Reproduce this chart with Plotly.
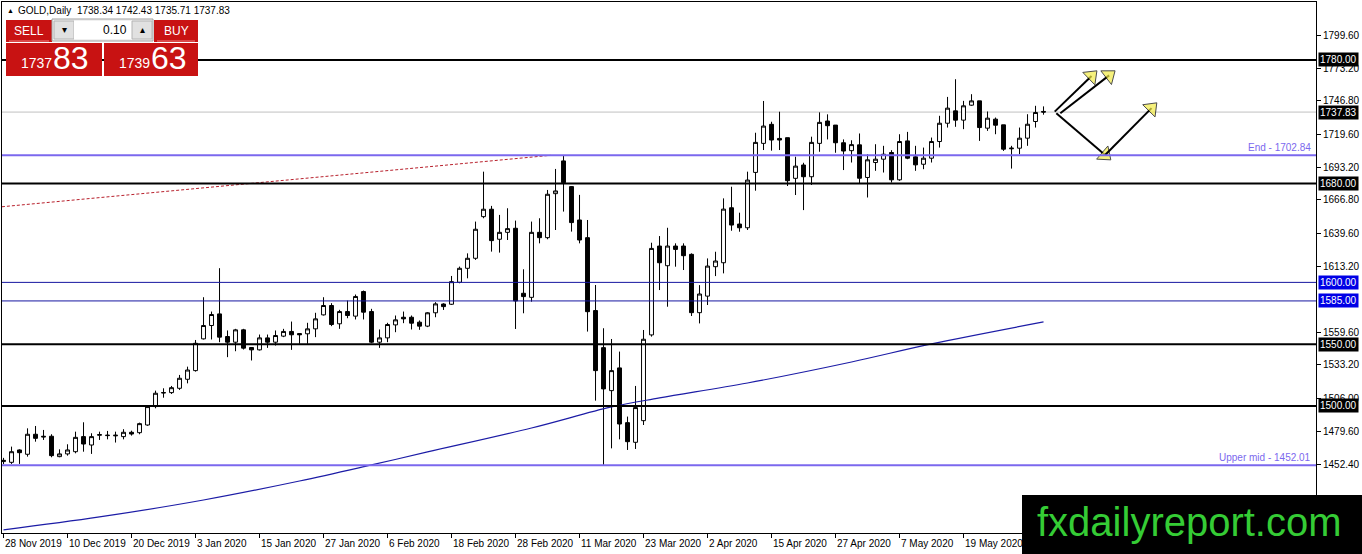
import plotly.graph_objects as go

# daily bars, 28 Nov 2019 .. 2 Jun 2020 (bar index = trading day)
opens = [1455.0, 1454.4, 1464.4, 1460.9, 1477.1, 1475.5, 1475.5, 1459.0, 1461.2, 1463.0,
         1475.2, 1468.4, 1476.3, 1476.0, 1475.8, 1475.2, 1478.7, 1478.4, 1484.6, 1499.5,
         1510.5, 1510.8, 1514.3, 1521.6, 1528.6, 1554.3, 1565.1, 1574.5, 1556.2, 1551.6,
         1561.6, 1547.3, 1545.4, 1555.1, 1551.6, 1556.5, 1560.3, 1558.6, 1558.4, 1562.4,
         1573.7, 1581.3, 1566.5, 1576.4, 1572.7, 1592.6, 1576.4, 1551.6, 1555.1, 1565.6,
         1571.8, 1571.8, 1567.8, 1564.6, 1575.4, 1582.5, 1582.3, 1600.1, 1611.4, 1619.5,
         1653.2, 1659.2, 1634.9, 1640.5, 1643.8, 1591.2, 1587.9, 1640.5, 1636.2, 1671.8,
         1698.3, 1677.5, 1650.5, 1636.2, 1577.2, 1547.2, 1512.4, 1530.8, 1486.5, 1470.6,
         1488.1, 1557.5, 1629.4, 1613.5, 1629.4, 1629.4, 1622.7, 1575.5, 1588.9, 1612.7,
         1615.9, 1660.4, 1647.2, 1644.2, 1689.0, 1712.5, 1727.9, 1716.5, 1717.1, 1684.2,
         1695.0, 1685.5, 1712.5, 1730.6, 1727.3, 1713.0, 1706.6, 1711.3, 1684.9, 1697.0,
         1699.7, 1705.1, 1683.0, 1714.5, 1701.6, 1695.6, 1700.5, 1714.0, 1728.8, 1738.8,
         1731.3, 1743.4, 1746.9, 1724.8, 1732.1, 1727.5, 1708.1, 1708.6, 1716.7, 1730.2,
         1738.34]
highs = [1458.0, 1467.1, 1464.9, 1481.9, 1483.8, 1480.6, 1477.1, 1464.9, 1469.0, 1479.2,
         1486.8, 1477.9, 1479.2, 1479.8, 1479.2, 1481.2, 1480.0, 1486.5, 1500.0, 1512.4,
         1514.3, 1516.2, 1525.1, 1531.8, 1553.4, 1588.0, 1576.4, 1611.5, 1561.1, 1562.4,
         1562.4, 1547.6, 1557.8, 1557.8, 1561.1, 1562.4, 1568.3, 1558.6, 1567.3, 1575.4,
         1588.0, 1583.2, 1577.8, 1585.3, 1590.2, 1593.4, 1578.6, 1561.9, 1567.3, 1573.2,
         1576.4, 1573.2, 1569.2, 1575.9, 1584.0, 1583.1, 1605.2, 1612.8, 1623.5, 1649.2,
         1689.6, 1661.9, 1654.6, 1660.0, 1650.0, 1610.6, 1649.2, 1651.9, 1674.8, 1691.8,
         1703.1, 1678.0, 1670.8, 1650.5, 1597.9, 1562.9, 1554.2, 1544.0, 1491.4, 1516.2,
         1561.5, 1632.1, 1637.5, 1644.2, 1631.6, 1631.6, 1623.5, 1597.8, 1619.4, 1624.8,
         1668.0, 1677.4, 1656.4, 1689.6, 1721.1, 1746.8, 1730.0, 1738.1, 1717.1, 1701.7,
         1696.8, 1717.9, 1737.6, 1736.0, 1727.3, 1715.7, 1715.0, 1720.5, 1703.7, 1711.8,
         1710.5, 1707.0, 1719.9, 1721.8, 1710.5, 1709.1, 1717.2, 1734.8, 1750.1, 1764.4,
         1746.9, 1752.3, 1746.9, 1738.3, 1733.4, 1727.5, 1710.5, 1725.3, 1736.1, 1742.9,
         1742.43]
lows = [1453.0, 1453.1, 1453.1, 1459.0, 1471.1, 1472.5, 1458.5, 1458.5, 1459.8, 1461.7,
        1463.0, 1461.2, 1472.5, 1473.0, 1470.4, 1473.0, 1476.0, 1477.1, 1484.0, 1498.1,
        1506.7, 1509.7, 1513.0, 1518.3, 1527.8, 1553.8, 1553.8, 1551.6, 1539.5, 1544.3,
        1545.7, 1536.8, 1544.9, 1547.0, 1548.9, 1555.7, 1545.4, 1550.3, 1550.3, 1555.7,
        1573.2, 1564.6, 1562.4, 1571.0, 1570.0, 1570.0, 1550.8, 1547.0, 1551.6, 1559.7,
        1567.0, 1561.9, 1561.6, 1563.8, 1571.8, 1577.7, 1581.7, 1599.3, 1603.3, 1618.2,
        1651.9, 1624.9, 1624.1, 1634.3, 1562.3, 1575.0, 1584.4, 1631.6, 1634.9, 1642.4,
        1657.3, 1641.1, 1631.6, 1560.2, 1504.3, 1452.3, 1465.7, 1473.0, 1464.4, 1465.2,
        1484.6, 1556.1, 1593.8, 1580.3, 1612.7, 1610.0, 1572.8, 1566.8, 1581.7, 1605.1,
        1607.3, 1641.8, 1641.0, 1642.4, 1674.2, 1707.1, 1706.6, 1707.1, 1678.0, 1670.7,
        1658.5, 1678.8, 1705.7, 1715.7, 1704.9, 1690.9, 1697.0, 1680.0, 1668.7, 1690.3,
        1688.9, 1680.8, 1682.2, 1699.7, 1690.3, 1691.6, 1697.0, 1709.1, 1725.3, 1725.9,
        1724.0, 1742.9, 1714.5, 1722.6, 1719.9, 1706.4, 1692.1, 1703.7, 1710.5, 1725.3,
        1735.71]
closes = [1456.0, 1463.0, 1462.2, 1477.1, 1473.8, 1475.0, 1459.8, 1461.2, 1464.4, 1474.6,
          1469.2, 1475.2, 1476.8, 1476.3, 1476.3, 1478.7, 1477.3, 1485.7, 1499.5, 1510.3,
          1510.8, 1514.8, 1522.4, 1529.1, 1550.7, 1565.1, 1574.0, 1555.7, 1551.6, 1561.6,
          1546.8, 1545.4, 1555.1, 1551.6, 1557.0, 1560.3, 1557.6, 1557.6, 1562.4, 1570.5,
          1581.3, 1565.9, 1576.4, 1573.2, 1588.6, 1575.9, 1551.6, 1555.1, 1565.9, 1569.7,
          1570.5, 1567.0, 1564.6, 1575.4, 1582.6, 1580.4, 1600.6, 1611.4, 1619.5, 1643.0,
          1659.2, 1633.8, 1640.5, 1643.5, 1585.0, 1588.5, 1640.5, 1636.2, 1671.3, 1674.0,
          1680.7, 1648.4, 1634.3, 1576.3, 1528.6, 1513.8, 1528.6, 1485.4, 1471.1, 1498.7,
          1554.0, 1627.5, 1615.9, 1629.4, 1626.7, 1621.6, 1575.5, 1590.6, 1613.2, 1617.3,
          1659.3, 1646.4, 1644.2, 1682.8, 1713.3, 1726.5, 1715.2, 1715.2, 1682.3, 1694.1,
          1685.5, 1713.3, 1729.5, 1726.8, 1713.0, 1706.3, 1711.5, 1684.3, 1699.2, 1699.7,
          1703.7, 1683.0, 1714.0, 1700.5, 1695.1, 1700.5, 1714.0, 1728.8, 1741.0, 1731.3,
          1742.9, 1746.9, 1725.3, 1732.9, 1727.2, 1707.8, 1708.6, 1716.7, 1728.0, 1737.5,
          1737.83]
bars = list(range(len(opens)))

label_bars = [0, 8, 16, 24, 32, 40, 48, 56, 64, 72, 80, 88, 96, 104, 112, 120]
date_labels = ['28 Nov 2019', '10 Dec 2019', '20 Dec 2019', '3 Jan 2020', '15 Jan 2020',
               '27 Jan 2020', '6 Feb 2020', '18 Feb 2020', '28 Feb 2020', '11 Mar 2020',
               '23 Mar 2020', '2 Apr 2020', '15 Apr 2020', '27 Apr 2020', '7 May 2020',
               '19 May 2020']

# 1586.80 and 1426.00 sit under the 1585.00 tag / the watermark, so they are left out
price_ticks = [1452.40, 1479.60, 1506.00, 1533.20, 1559.60, 1613.20,
               1639.60, 1666.80, 1693.20, 1719.60, 1746.80, 1773.20, 1799.60]

# moving average (blue curve)
ma_bars = [0, 12, 25, 37, 46, 53, 66, 76, 82, 93, 106, 116, 130]
ma_values = [1399.7, 1410.2, 1423.9, 1439.3, 1452.3, 1462.8, 1482.2, 1499.2, 1506.5,
             1518.6, 1535.6, 1550.2, 1568.0]

# dotted red trend line
trend_bars = [-0.2, 68.4]
trend_prices = [1661.2, 1702.84]

black_levels = [1780.00, 1680.00, 1550.00, 1500.00]
blue_levels = [1600.00, 1585.00]
purple_levels = [1702.84, 1452.01]
purple_names = ['End', 'Upper mid']
bid = 1737.83
header = 'GOLD,Daily  1738.34 1742.43 1735.71 1737.83'

# hand drawn arrows (start, end)
arrow_bars = [[131.4, 136.0], [132.1, 138.2], [131.6, 137.7], [137.7, 143.5]]
arrow_prices = [[1738.2, 1767.0], [1736.9, 1767.5], [1736.9, 1703.1], [1703.1, 1741.0]]

W, H = 1362, 554
L, R, T, B = 2, 46, 2, 21
PW, PH = W - L - R, H - T - B


def px(x):
    return (x - L) / PW


def py(y):
    return (H - B - y) / PH


fig = go.Figure()

fig.add_trace(go.Candlestick(
    x=bars, open=opens, high=highs, low=lows, close=closes,
    increasing=dict(line=dict(color='black', width=1), fillcolor='white'),
    decreasing=dict(line=dict(color='black', width=1), fillcolor='black'),
    hoverinfo='skip'
))

fig.add_trace(go.Scatter(x=ma_bars, y=ma_values, mode='lines', line=dict(color='#1c1ca6', width=1.2),
                         line_shape='spline', hoverinfo='skip'))
fig.add_trace(go.Scatter(x=trend_bars, y=trend_prices, mode='lines',
                         line=dict(color='#b8202c', width=1, dash='3px,2px'), hoverinfo='skip'))

for xs, ys in zip(arrow_bars, arrow_prices):
    fig.add_trace(go.Scatter(
        x=xs, y=ys, mode='lines+markers', line=dict(color='black', width=2),
        marker=dict(symbol='triangle-up', size=[0, 15], angleref='previous', color='#f3ec45',
                    line=dict(color='black', width=[0, 1])),
        hoverinfo='skip'
    ))

shapes = []
shapes.append(dict(type='line', xref='paper', x0=0, x1=1, yref='y', y0=bid, y1=bid,
                   line=dict(color='#c0c0c0', width=1), layer='below'))
for lv in black_levels:
    shapes.append(dict(type='line', xref='paper', x0=0, x1=1, yref='y', y0=lv, y1=lv,
                       line=dict(color='black', width=2)))
for lv in blue_levels:
    shapes.append(dict(type='line', xref='paper', x0=0, x1=1, yref='y', y0=lv, y1=lv,
                       line=dict(color='#1616a0', width=1)))
for lv in purple_levels:
    shapes.append(dict(type='line', xref='paper', x0=0, x1=1, yref='y', y0=lv, y1=lv,
                       line=dict(color='#7b68ee', width=2)))


def rect(x0, y0, x1, y1, fill, line=None):
    shapes.append(dict(type='rect', xref='paper', yref='paper', x0=px(x0), x1=px(x1),
                       y0=py(y0), y1=py(y1), fillcolor=fill,
                       line=dict(color=line or fill, width=1 if line else 0)))


# one-click trading panel
red = '#c81212'
rect(6, 20, 52, 42, red)
rect(154, 20, 198, 42, red)
rect(52, 19, 153, 41, '#f0f0f0', '#a0a0a0')
rect(54, 21, 74, 39, '#e1e1e1', '#b4b4b4')
rect(74, 21, 132, 39, 'white')
rect(132, 21, 152, 39, '#e1e1e1', '#b4b4b4')
rect(6, 43, 102, 76, red)
rect(104, 43, 198, 76, red)
for x0, x1 in [(9, 49), (157, 195)]:
    shapes.append(dict(type='line', xref='paper', yref='paper', x0=px(x0), x1=px(x1),
                       y0=py(41), y1=py(41), line=dict(color='#ee8080', width=1)))

# watermark
rect(1022, 495, 1362, 554, 'black')

annotations = []


def text(s, x, y, size, color='black', xanchor='left', family='Liberation Sans', **kw):
    annotations.append(dict(text=s, xref='paper', yref='paper', x=px(x), y=py(y),
                            xanchor=xanchor, yanchor='middle', showarrow=False,
                            font=dict(size=size, color=color, family=family), **kw))


text('▲', 5, 10, 7)
text(header, 16, 10, 10)
text('SELL', 29, 31, 12, 'white', 'center')
text('BUY', 176, 31, 12, 'white', 'center')
text('0.10', 129, 30, 12, 'black', 'right')
text('▾', 64, 30, 10, 'black', 'center')
text('▴', 142, 30, 10, 'black', 'center')
text('1737', 36, 63, 14, 'white', 'center')
text('83', 71, 58, 32, 'white', 'center')
text('1739', 134, 63, 14, 'white', 'center')
text('63', 169, 58, 32, 'white', 'center')
text('fxdailyreport.com', 1189, 522, 40, '#35cc35', 'center')

for b, lab in zip(label_bars, date_labels):
    annotations.append(dict(text=lab, xref='x', yref='paper', x=b - 0.1, y=0, yshift=-10,
                            xanchor='left', yanchor='middle', showarrow=False,
                            font=dict(size=10, color='black', family='Liberation Sans')))

for lv in black_levels + [bid]:
    annotations.append(dict(text=f'{lv:.2f}', xref='paper', x=1, xshift=2, xanchor='left',
                            yref='y', y=lv, yanchor='middle', showarrow=False,
                            bgcolor='black', borderpad=1,
                            font=dict(size=10, color='white', family='Liberation Sans')))
for lv in blue_levels:
    annotations.append(dict(text=f'{lv:.2f}', xref='paper', x=1, xshift=2, xanchor='left',
                            yref='y', y=lv, yanchor='middle', showarrow=False,
                            bgcolor='#0000e6', borderpad=1,
                            font=dict(size=10, color='white', family='Liberation Sans')))
for lv, name in zip(purple_levels, purple_names):
    annotations.append(dict(text=f'{name} - {lv:.2f}', xref='paper', x=1, xshift=-3,
                            xanchor='right', yref='y', y=lv, yanchor='bottom', showarrow=False,
                            font=dict(size=10, color='#7b68ee', family='Liberation Sans')))

fig.update_layout(
    width=W, height=H,
    margin=dict(l=L, r=R, t=T, b=B),
    paper_bgcolor='white', plot_bgcolor='white',
    showlegend=False,
    shapes=shapes, annotations=annotations,
    font=dict(family='Liberation Sans', size=10, color='black'),
    xaxis=dict(range=[-0.19, 164.06], rangeslider=dict(visible=False), showgrid=False,
               zeroline=False, showline=True, mirror=True, linecolor='black', linewidth=1,
               tickvals=label_bars, ticks='outside', ticklen=4, tickcolor='black',
               showticklabels=False),
    yaxis=dict(range=[1397.2, 1826.9], side='right', showgrid=False, zeroline=False,
               showline=True, mirror=True, linecolor='black', linewidth=1,
               tickvals=price_ticks, ticktext=[f'{v:.2f}' for v in price_ticks],
               ticks='outside', ticklen=4, tickcolor='black',
               tickfont=dict(size=10, color='black', family='Liberation Sans'))
)

# the page's default body margin would shift the chart by 8px
fig.write_html("out.html", config={'displayModeBar': False},
               post_script="document.body.style.margin='0px';")
